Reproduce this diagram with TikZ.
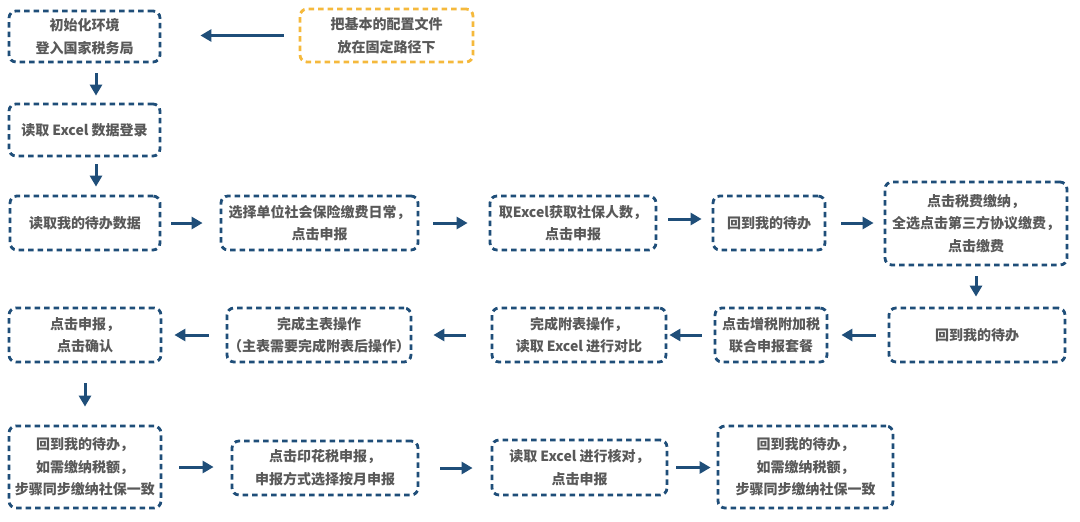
\documentclass[tikz,border=0pt]{standalone}
\usepackage{fontspec}
\setmainfont{Noto Sans CJK SC}
\usetikzlibrary{arrows.meta}
\definecolor{boxblue}{RGB}{31,78,121}
\definecolor{boxyellow}{RGB}{245,185,60}
\definecolor{txtgray}{RGB}{89,89,89}
\begin{document}
\begin{tikzpicture}[x=1pt,y=-1pt,
  box/.style={draw=boxblue, line width=2.8pt, dash pattern=on 5.5pt off 4pt,
    rounded corners=7pt, align=center, text=txtgray,
    font=\fontsize{14}{22.5}\selectfont\bfseries, inner sep=0pt},
  ybox/.style={box, draw=boxyellow},
  arr/.style={draw=boxblue, line width=3pt, -{Triangle[length=11pt,width=12pt]}}]
\useasboundingbox[fill=white] (0,0) rectangle (1080,522);

\node[box, minimum width=151pt, minimum height=51pt] (A) at (84.5,36.5) {初始化环境\\登入国家税务局};
\node[ybox, minimum width=173pt, minimum height=53pt] (B) at (386.5,35.5) {把基本的配置文件\\放在固定路径下};
\node[box, minimum width=151pt, minimum height=52pt] (C) at (84.5,130) {读取 Excel 数据登录};

\node[box, minimum width=150pt, minimum height=54pt] (D) at (85,223) {读取我的待办数据};
\node[box, minimum width=197pt, minimum height=54pt] (E) at (319.5,223) {选择单位社会保险缴费日常，\\点击申报};
\node[box, minimum width=166pt, minimum height=54pt] (F) at (573,223) {取Excel获取社保人数，\\点击申报};
\node[box, minimum width=112pt, minimum height=54pt] (G) at (769,223) {回到我的待办};
\node[box, minimum width=182pt, minimum height=83pt] (H) at (976,223.5) {点击税费缴纳，\\全选点击第三方协议缴费，\\点击缴费};

\node[box, minimum width=176pt, minimum height=54pt] (I) at (977,335) {回到我的待办};
\node[box, minimum width=112pt, minimum height=54pt] (J) at (771,335) {点击增税附加税\\联合申报套餐};
\node[box, minimum width=174pt, minimum height=54pt] (K) at (579,335) {完成附表操作，\\读取 Excel 进行对比};
\node[box, minimum width=184pt, minimum height=54pt] (L) at (319,335) {完成主表操作\\（主表需要完成附表后操作）};
\node[box, minimum width=152pt, minimum height=54pt] (M) at (85,335) {点击申报，\\点击确认};

\node[box, minimum width=152pt, minimum height=82pt] (N) at (85,467) {回到我的待办，\\如需缴纳税额，\\步骤同步缴纳社保一致};
\node[box, minimum width=186pt, minimum height=54pt] (O) at (325,468) {点击印花税申报，\\申报方式选择按月申报};
\node[box, minimum width=175pt, minimum height=55pt] (P) at (579.5,467.5) {读取 Excel 进行核对，\\点击申报};
\node[box, minimum width=175pt, minimum height=82pt] (Q) at (805.5,467) {回到我的待办，\\如需缴纳税额，\\步骤同步缴纳社保一致};

\draw[arr, shorten <=15pt, shorten >=39pt] (B.west) -- (B.west -| A.east);
\draw[arr, shorten <=10pt, shorten >=7pt] ([xshift=11.5pt]A.south) -- ([xshift=11.5pt]C.north);
\draw[arr, shorten <=7pt, shorten >=8pt] ([xshift=11.5pt]C.south) -- ([xshift=11.5pt]C.south |- D.north);
\draw[arr, shorten <=10pt, shorten >=17pt] (D.east) -- (E.west);
\draw[arr, shorten <=14pt, shorten >=21pt] (E.east) -- (F.west);
\draw[arr, shorten <=11pt, shorten >=10pt] ([yshift=4pt]F.east) -- ([yshift=4pt]G.west);
\draw[arr, shorten <=15pt, shorten >=10pt] (G.east) -- (G.east -| H.west);
\draw[arr, shorten <=10pt, shorten >=10pt] (H.south) -- (H.south |- I.north);
\draw[arr, shorten <=12pt, shorten >=13pt] (I.west) -- (J.east);
\draw[arr, shorten <=12pt, shorten >=2pt] (J.west) -- (K.east);
\draw[arr, shorten <=25pt, shorten >=21pt] (K.west) -- (L.east);
\draw[arr, shorten <=17pt, shorten >=12pt] (L.west) -- (M.east);
\draw[arr, shorten <=20pt, shorten >=18pt] (M.south) -- (N.north);
\draw[arr, shorten <=17pt, shorten >=17pt] (N.east) -- (N.east -| O.west);
\draw[arr, shorten <=21pt, shorten >=18pt] (O.east) -- (O.east -| P.west);
\draw[arr, shorten <=8pt, shorten >=6pt] (P.east) -- (P.east -| Q.west);
\end{tikzpicture}
\end{document}
